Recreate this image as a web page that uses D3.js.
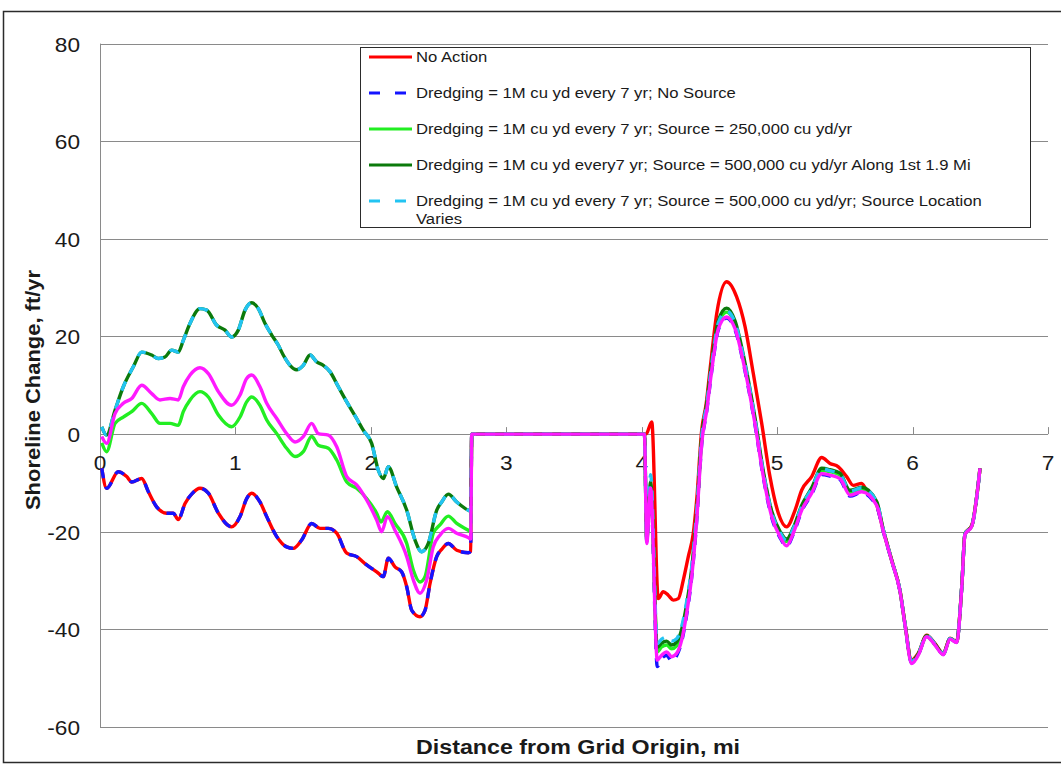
<!DOCTYPE html>
<html>
<head>
<meta charset="utf-8">
<script src="https://cdn.jsdelivr.net/npm/d3@7"></script>
<style>
  html, body { margin: 0; padding: 0; background: #fff; }
  svg { display: block; font-family: "Liberation Sans", Arial, sans-serif; }
</style>
</head>
<body>
<svg id="chart" width="1061" height="767"></svg>
<script>
// Axis ticks
const xTicks = [0, 1, 2, 3, 4, 5, 6, 7];
const yTicks = [-60, -40, -20, 0, 20, 40, 60, 80];

// Shoreline change (ft/yr) by distance from grid origin (mi)
// Western reach, 0 - 2.74 mi
const westNoSource = [[0.013,-7.0],[0.049,-11.1],[0.135,-7.7],[0.197,-8.7],[0.234,-9.8],[0.308,-9.1],[0.357,-11.8],[0.418,-14.9],[0.492,-16.2],[0.541,-16.2],[0.578,-17.5],[0.628,-14.2],[0.68,-12.2],[0.738,-11.1],[0.80,-12.1],[0.874,-16.2],[0.972,-19.0],[1.034,-16.9],[1.083,-13.2],[1.120,-12.1],[1.181,-13.9],[1.231,-16.9],[1.305,-21.0],[1.378,-23.1],[1.428,-23.4],[1.489,-21.7],[1.563,-18.3],[1.624,-19.3],[1.686,-19.3],[1.748,-20.3],[1.822,-24.4],[1.895,-25.1],[1.969,-26.8],[2.043,-28.2],[2.092,-29.2],[2.129,-25.4],[2.178,-27.2],[2.227,-28.2],[2.265,-31.3],[2.302,-36.1],[2.363,-37.4],[2.40,-36.1],[2.437,-30.6],[2.486,-25.1],[2.523,-23.6],[2.572,-22.4],[2.634,-23.8],[2.72,-24.3],[2.737,-24.0]];
const westSource250 = [[0.013,-1.8],[0.049,-3.6],[0.111,2.2],[0.172,3.5],[0.234,4.6],[0.308,6.3],[0.382,4.2],[0.443,2.2],[0.517,2.2],[0.578,1.8],[0.615,4.6],[0.665,7.0],[0.738,8.7],[0.80,7.6],[0.874,3.9],[0.972,1.5],[1.034,3.5],[1.083,6.6],[1.120,7.6],[1.181,5.9],[1.231,2.9],[1.305,0.1],[1.378,-2.9],[1.440,-4.6],[1.501,-3.6],[1.563,-0.5],[1.612,-2.3],[1.686,-2.9],[1.748,-5.3],[1.822,-9.8],[1.895,-11.1],[1.969,-13.2],[2.043,-16.2],[2.075,-18.0],[2.122,-15.9],[2.178,-18.3],[2.265,-22.4],[2.314,-27.9],[2.363,-30.3],[2.40,-29.2],[2.461,-20.3],[2.51,-18.6],[2.572,-16.8],[2.634,-18.3],[2.72,-19.7],[2.737,-20.0]];
const westSource500 = [[0.013,1.5],[0.049,-0.2],[0.111,4.9],[0.172,9.7],[0.246,13.8],[0.308,16.8],[0.382,16.2],[0.430,15.5],[0.480,15.8],[0.529,17.2],[0.578,16.8],[0.615,19.2],[0.665,22.7],[0.738,25.7],[0.788,25.4],[0.862,22.3],[0.923,21.3],[0.972,19.9],[1.021,21.3],[1.071,25.4],[1.120,26.9],[1.169,25.7],[1.218,22.7],[1.268,20.3],[1.317,18.2],[1.353,16.2],[1.403,14.1],[1.452,13.2],[1.501,14.1],[1.551,16.2],[1.600,14.8],[1.649,14.1],[1.698,12.8],[1.760,9.7],[1.822,6.6],[1.895,3.2],[1.944,0.8],[2.006,-1.9],[2.055,-7.4],[2.092,-9.1],[2.129,-6.7],[2.19,-10.8],[2.265,-15.6],[2.326,-21.7],[2.375,-24.1],[2.424,-22.4],[2.486,-15.6],[2.523,-13.9],[2.572,-12.3],[2.634,-13.9],[2.72,-15.6],[2.737,-15.8]];
const westOther = [[0.013,-0.5],[0.049,-1.9],[0.111,4.2],[0.172,6.3],[0.234,7.3],[0.308,10.0],[0.382,8.3],[0.443,7.0],[0.517,7.3],[0.578,7.0],[0.615,9.7],[0.665,12.1],[0.738,13.6],[0.80,12.4],[0.874,8.7],[0.972,5.9],[1.034,8.0],[1.083,11.4],[1.120,12.1],[1.181,9.7],[1.231,6.3],[1.305,3.2],[1.378,0.1],[1.440,-1.6],[1.501,-0.5],[1.563,2.2],[1.612,0.1],[1.686,-0.2],[1.748,-2.6],[1.822,-8.7],[1.895,-10.4],[1.969,-13.5],[2.043,-17.6],[2.08,-20.0],[2.122,-16.9],[2.178,-19.7],[2.265,-25.1],[2.314,-29.9],[2.363,-32.6],[2.412,-29.9],[2.461,-23.1],[2.51,-20.7],[2.572,-19.3],[2.634,-20.3],[2.72,-21.2],[2.737,-21.5]];

// Unchanged stretch, 2.75 - 4.02 mi
const middleReach = [[2.745,0],[4.02,0]];

// Eastern reach, 4.02 - 6.5 mi
const eastNoAction = [[4.032,0],[4.074,2.5],[4.122,-33.7],[4.159,-32.3],[4.196,-33.0],[4.233,-34.0],[4.27,-33.7],[4.307,-29.9],[4.344,-25.1],[4.381,-20.3],[4.406,-13.5],[4.443,0.8],[4.475,6.0],[4.504,13.1],[4.554,24.7],[4.627,31.2],[4.701,28.1],[4.763,22.0],[4.824,12.4],[4.886,2.2],[4.947,-8.7],[5.009,-16.2],[5.070,-19.0],[5.132,-15.6],[5.181,-11.5],[5.255,-8.7],[5.329,-4.8],[5.39,-6.0],[5.452,-6.7],[5.513,-8.7],[5.562,-10.5],[5.624,-10.1],[5.673,-12.2],[5.722,-13.5],[5.784,-19.7],[5.846,-25.8],[5.907,-32.0],[5.944,-38.8],[5.993,-46.3],[6.042,-44.9],[6.104,-41.2],[6.165,-42.9],[6.227,-44.9],[6.276,-41.8],[6.325,-42.5],[6.363,-31.3],[6.387,-20.4],[6.437,-18.7],[6.498,-7.0]];
const eastNoSource = [[4.02,0],[4.037,-22.0],[4.066,-11.5],[4.115,-47.6],[4.147,-46.0],[4.184,-45.3],[4.221,-46.5],[4.258,-45.4],[4.295,-42.5],[4.332,-37.0],[4.369,-29.4],[4.406,-17.8],[4.443,-2.1],[4.48,4.7],[4.517,12.9],[4.566,21.4],[4.627,23.8],[4.689,21.4],[4.763,12.9],[4.836,2.0],[4.898,-8.9],[4.96,-17.1],[5.021,-21.2],[5.070,-23.0],[5.119,-20.5],[5.181,-15.8],[5.255,-12.3],[5.329,-8.3],[5.39,-8.6],[5.464,-9.3],[5.538,-12.7],[5.624,-12.0],[5.735,-14.8],[5.784,-20.0],[5.846,-26.0],[5.907,-32.2],[5.944,-39.0],[5.993,-46.9],[6.042,-45.2],[6.104,-41.4],[6.165,-43.1],[6.227,-45.1],[6.276,-41.9],[6.325,-42.6],[6.363,-31.4],[6.387,-20.5],[6.437,-18.8],[6.498,-7.0]];
const eastSource250 = [[4.02,0],[4.037,-21.8],[4.066,-10.5],[4.115,-44.6],[4.147,-43.6],[4.184,-43.2],[4.221,-44.0],[4.258,-43.4],[4.295,-40.8],[4.332,-35.5],[4.369,-28.3],[4.406,-16.8],[4.443,-1.2],[4.48,5.6],[4.517,13.9],[4.566,22.5],[4.627,25.0],[4.689,22.5],[4.763,13.9],[4.836,2.9],[4.898,-8.1],[4.96,-16.2],[5.021,-20.3],[5.070,-22.0],[5.119,-19.6],[5.181,-15.0],[5.255,-11.4],[5.329,-7.4],[5.39,-7.7],[5.464,-8.4],[5.538,-11.9],[5.624,-11.2],[5.735,-14.1],[5.784,-19.7],[5.846,-25.9],[5.907,-32.1],[5.944,-38.9],[5.993,-46.7],[6.042,-45.1],[6.104,-41.4],[6.165,-43.1],[6.227,-45.1],[6.276,-41.9],[6.325,-42.6],[6.363,-31.4],[6.387,-20.5],[6.437,-18.8],[6.498,-7.0]];
const eastSource500 = [[4.02,0],[4.037,-21.5],[4.066,-9.8],[4.115,-43.7],[4.147,-42.8],[4.184,-42.4],[4.221,-43.2],[4.258,-42.6],[4.295,-40.0],[4.332,-34.8],[4.369,-27.6],[4.406,-16.2],[4.443,-0.6],[4.48,6.3],[4.517,14.6],[4.566,23.3],[4.627,25.8],[4.689,23.2],[4.763,14.5],[4.836,3.4],[4.898,-7.6],[4.96,-15.8],[5.021,-19.9],[5.070,-21.5],[5.119,-19.2],[5.181,-14.6],[5.255,-11.0],[5.329,-7.0],[5.39,-7.3],[5.464,-8.0],[5.538,-11.5],[5.624,-10.9],[5.735,-13.8],[5.784,-19.6],[5.846,-25.9],[5.907,-32.1],[5.944,-38.9],[5.993,-46.6],[6.042,-45.0],[6.104,-41.3],[6.165,-43.0],[6.227,-45.0],[6.276,-41.9],[6.325,-42.6],[6.363,-31.4],[6.387,-20.5],[6.437,-18.8],[6.498,-7.0]];
const eastSourceVaries = [[4.02,0],[4.037,-21.2],[4.066,-8.3],[4.115,-42.9],[4.147,-42.0],[4.184,-41.6],[4.221,-42.4],[4.258,-41.9],[4.295,-39.4],[4.332,-34.3],[4.369,-27.2],[4.406,-15.9],[4.443,-0.4],[4.48,6.1],[4.517,14.3],[4.566,22.8],[4.627,25.2],[4.689,22.8],[4.763,14.2],[4.836,3.2],[4.898,-7.8],[4.96,-16.0],[5.021,-20.1],[5.070,-21.8],[5.119,-19.4],[5.181,-14.8],[5.255,-11.2],[5.329,-7.1],[5.39,-7.5],[5.464,-8.2],[5.538,-11.7],[5.624,-11.0],[5.735,-13.9],[5.784,-19.6],[5.846,-25.9],[5.907,-32.1],[5.944,-38.9],[5.993,-46.6],[6.042,-45.0],[6.104,-41.3],[6.165,-43.0],[6.227,-45.0],[6.276,-41.9],[6.325,-42.6],[6.363,-31.4],[6.387,-20.5],[6.437,-18.8],[6.498,-7.0]];
const eastOther = [[4.02,0],[4.037,-22.4],[4.066,-11.1],[4.115,-46.3],[4.147,-45.3],[4.184,-44.6],[4.221,-45.6],[4.258,-44.9],[4.295,-42.2],[4.332,-36.7],[4.369,-29.2],[4.406,-17.6],[4.443,-1.9],[4.48,4.9],[4.517,13.1],[4.566,21.6],[4.627,24.0],[4.689,21.6],[4.763,13.1],[4.836,2.2],[4.898,-8.7],[4.96,-16.9],[5.021,-21.0],[5.070,-22.9],[5.119,-20.3],[5.181,-15.6],[5.255,-12.1],[5.329,-8.1],[5.39,-8.4],[5.464,-9.1],[5.538,-12.5],[5.624,-11.8],[5.735,-14.6],[5.784,-19.9],[5.846,-26.0],[5.907,-32.2],[5.944,-39.0],[5.993,-47.0],[6.042,-45.3],[6.104,-41.5],[6.165,-43.2],[6.227,-45.2],[6.276,-42.0],[6.325,-42.7],[6.363,-31.5],[6.387,-20.6],[6.437,-18.9],[6.498,-7.0]];

// Scenario labels (the last series is plotted without a legend entry)
const seriesNames = [
  "No Action",
  "Dredging = 1M cu yd every 7 yr; No Source",
  "Dredging = 1M cu yd every 7 yr; Source = 250,000 cu yd/yr",
  "Dredging = 1M cu yd every7 yr; Source = 500,000 cu yd/yr Along 1st 1.9 Mi",
  "Dredging = 1M cu yd every 7 yr; Source = 500,000 cu yd/yr; Source Location|Varies",
  null
];
const seriesValues = [
  westNoSource.concat(middleReach, eastNoAction),
  westNoSource.concat(middleReach, eastNoSource),
  westSource250.concat(middleReach, eastSource250),
  westSource500.concat(middleReach, eastSource500),
  westSource500.concat(middleReach, eastSourceVaries),
  westOther.concat(middleReach, eastOther)
];
const seriesColors = ["#ff0000", "#1414ff", "#22ee22", "#0b7a0b", "#22c4f2", "#ff1aff"];
const seriesDashed = [false, true, false, false, true, false];

const svg = d3.select("#chart");
const ink = "#1a1a1a";
const gridColor = "#8a8a8a";

// Outer frame
svg.append("rect")
  .attr("x", 3.5).attr("y", 11.5).attr("width", 1070).attr("height", 751)
  .attr("fill", "#fff").attr("stroke", "#2b2b2b").attr("stroke-width", 1.5);

const x = d3.scaleLinear().domain([0, 7]).range([100, 1048]);
const y = d3.scaleLinear().domain([-60, 80]).range([727, 43.6]);

// Horizontal gridlines
svg.append("g").selectAll("line").data(yTicks).join("line")
  .attr("x1", x(0)).attr("x2", x(7))
  .attr("y1", d => Math.round(y(d)) + 0.5).attr("y2", d => Math.round(y(d)) + 0.5)
  .attr("stroke", gridColor).attr("stroke-width", 1);

// Vertical axis line
svg.append("line")
  .attr("x1", x(0) + 0.5).attr("x2", x(0) + 0.5)
  .attr("y1", y(80)).attr("y2", y(-60))
  .attr("stroke", gridColor).attr("stroke-width", 1);

// X tick marks on the zero line
svg.append("g").selectAll("line").data(xTicks).join("line")
  .attr("x1", d => Math.round(x(d)) + 0.5).attr("x2", d => Math.round(x(d)) + 0.5)
  .attr("y1", y(0) - 7).attr("y2", y(0))
  .attr("stroke", gridColor).attr("stroke-width", 1);

const sx = 1.08;
// Y tick labels
svg.append("g").selectAll("text").data(yTicks).join("text")
  .attr("transform", d => `translate(80,${y(d) + 8}) scale(${sx},1)`)
  .attr("text-anchor", "end")
  .attr("font-size", 21).attr("fill", ink)
  .text(d => d);

// X tick labels, placed under the zero line
svg.append("g").selectAll("text").data(xTicks).join("text")
  .attr("transform", d => `translate(${x(d)},${y(0) + 36}) scale(${sx},1)`)
  .attr("text-anchor", "middle")
  .attr("font-size", 21).attr("fill", ink)
  .text(d => d);

// Axis titles
svg.append("text")
  .attr("x", 578).attr("y", 754)
  .attr("text-anchor", "middle")
  .attr("font-size", 20).attr("font-weight", "bold").attr("fill", ink)
  .attr("textLength", 324).attr("lengthAdjust", "spacingAndGlyphs")
  .text("Distance from Grid Origin, mi");

svg.append("text")
  .attr("transform", "translate(40,390) rotate(-90)")
  .attr("text-anchor", "middle")
  .attr("font-size", 21).attr("font-weight", "bold").attr("fill", ink)
  .attr("textLength", 240).attr("lengthAdjust", "spacingAndGlyphs")
  .text("Shoreline Change, ft/yr");

// Series lines
const line = d3.line()
  .x(d => x(d[0]))
  .y(d => y(d[1]))
  .curve(d3.curveMonotoneX);

svg.append("g").selectAll("path").data(seriesValues).join("path")
  .attr("d", line)
  .attr("fill", "none")
  .attr("stroke", (d, i) => seriesColors[i])
  .attr("stroke-width", 3.4)
  .attr("stroke-linejoin", "round")
  .attr("stroke-dasharray", (d, i) => seriesDashed[i] ? "10,9" : null);

// Legend
const legend = svg.append("g");
legend.append("rect")
  .attr("x", 360.5).attr("y", 47.5).attr("width", 670).attr("height", 180)
  .attr("fill", "#fff").attr("stroke", "#2b2b2b").attr("stroke-width", 1);

const rowY = [57, 93, 129, 165, 201];
const items = seriesNames.map((n, i) => ({ name: n, i })).filter(d => d.name);
const rows = legend.selectAll("g.item").data(items).join("g").attr("class", "item");
rows.append("line")
  .attr("x1", 369).attr("x2", 412)
  .attr("y1", (d, k) => rowY[k]).attr("y2", (d, k) => rowY[k])
  .attr("stroke", d => seriesColors[d.i])
  .attr("stroke-width", 3)
  .attr("stroke-dasharray", d => seriesDashed[d.i] ? "11,15" : null);
rows.each(function (d, k) {
  const parts = d.name.split("|");
  parts.forEach((p, j) => {
    d3.select(this).append("text")
      .attr("transform", `translate(416,${rowY[k] + 5 + j * 18}) scale(1.15,1)`)
      .attr("font-size", 14.5).attr("fill", ink)
      .text(p);
  });
});
</script>
</body>
</html>
